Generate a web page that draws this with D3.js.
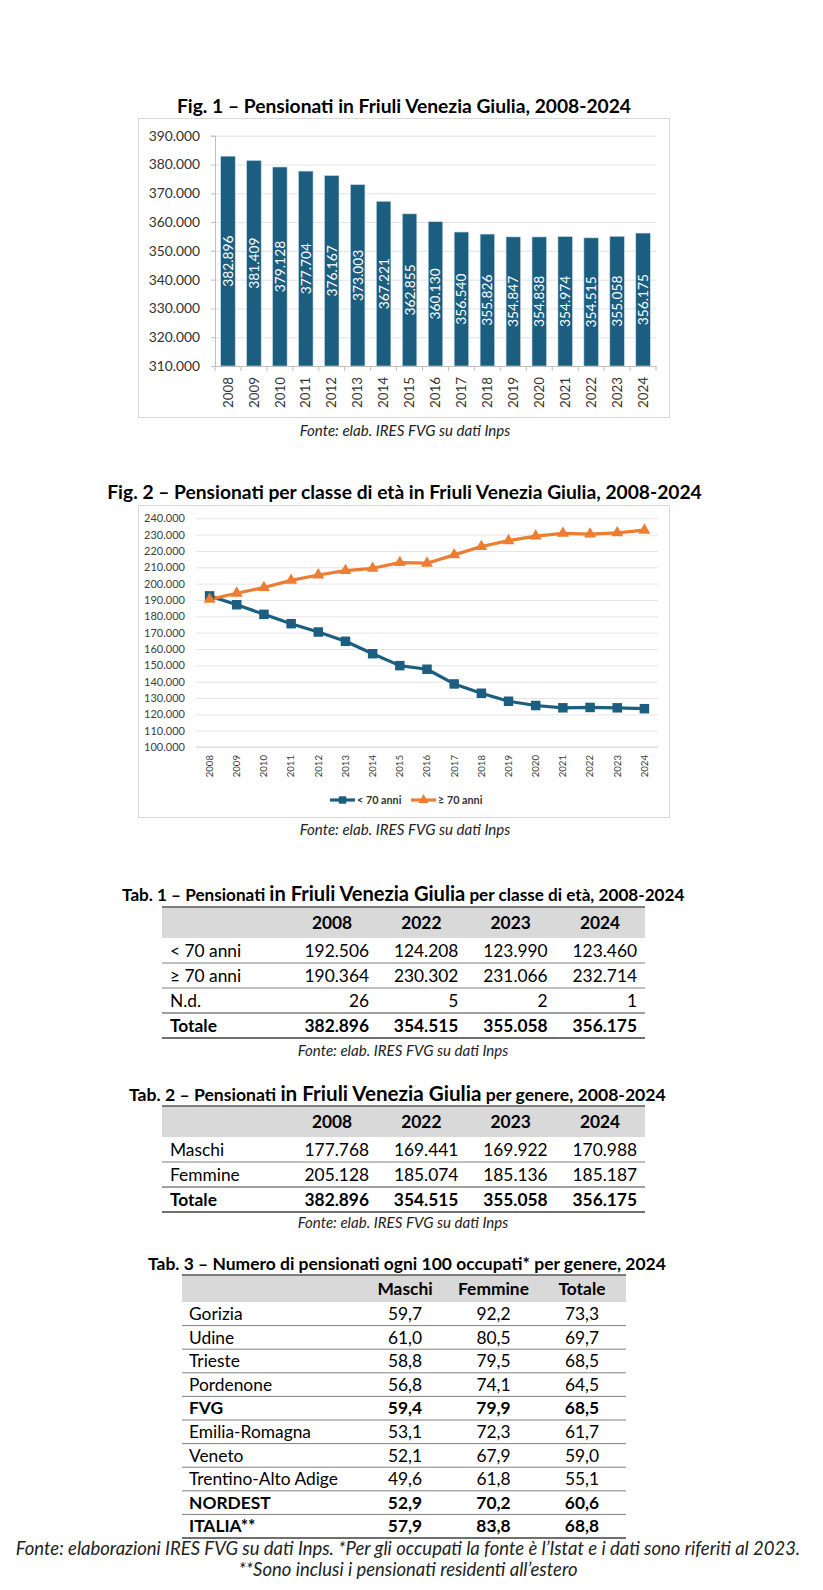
<!DOCTYPE html>
<html><head><meta charset="utf-8">
<script src="https://cdn.jsdelivr.net/npm/d3@7"></script>
<style>
body{margin:0;background:#fff}
svg{display:block}
text{font-family:Lato,"Open Sans",sans-serif}
</style>
</head><body>
<svg id="c" width="823" height="1590"></svg>
<script>
// ---------------- DATA ----------------
const years = ["2008","2009","2010","2011","2012","2013","2014","2015","2016","2017","2018","2019","2020","2021","2022","2023","2024"];
const pensionati = [382896,381409,379128,377704,376167,373003,367221,362855,360130,356540,355826,354847,354838,354974,354515,355058,356175];
const fig1Ticks = [310000,320000,330000,340000,350000,360000,370000,380000,390000];

const under70 = [192506,187100,181200,175500,170400,164700,157100,149800,147600,138600,132900,128000,125400,124000,124208,123990,123460];
const over70  = [190364,194100,197600,202000,205300,208000,209400,212900,212500,217600,222700,226300,229100,230800,230302,231066,232714];
const fig2Ticks = [100000,110000,120000,130000,140000,150000,160000,170000,180000,190000,200000,210000,220000,230000,240000];
const seriesNames = ["< 70 anni","≥ 70 anni"];

const tabCols = ["2008","2022","2023","2024"];
const tab1Rows = ["< 70 anni","≥ 70 anni","N.d.","Totale"];
const tab1Values = [[192506,124208,123990,123460],[190364,230302,231066,232714],[26,5,2,1],[382896,354515,355058,356175]];
const tab2Rows = ["Maschi","Femmine","Totale"];
const tab2Values = [[177768,169441,169922,170988],[205128,185074,185136,185187],[382896,354515,355058,356175]];

const tab3Cols = ["Maschi","Femmine","Totale"];
const tab3Rows = ["Gorizia","Udine","Trieste","Pordenone","FVG","Emilia-Romagna","Veneto","Trentino-Alto Adige","NORDEST","ITALIA**"];
const tab3Values = [[59.7,92.2,73.3],[61.0,80.5,69.7],[58.8,79.5,68.5],[56.8,74.1,64.5],[59.4,79.9,68.5],[53.1,72.3,61.7],[52.1,67.9,59.0],[49.6,61.8,55.1],[52.9,70.2,60.6],[57.9,83.8,68.8]];
const tab3Bold = ["FVG","NORDEST","ITALIA**"];

const fonte = "Fonte: elab. IRES FVG su dati Inps";
const fonte3a = "Fonte: elaborazioni IRES FVG su dati Inps. *Per gli occupati la fonte è l’Istat e i dati sono riferiti al 2023.";
const fonte3b = "**Sono inclusi i pensionati residenti all’estero";

// ---------------- HELPERS ----------------
const loc = d3.formatLocale({decimal:",", thousands:".", grouping:[3], currency:["€",""]});
const fInt = loc.format(",d");
const fDec = loc.format(".1f");
const BLUE = "#1b5e80", ORANGE = "#ed7d31";
const svg = d3.select("#c");
svg.append("rect").attr("width",823).attr("height",1590).attr("fill","#fff");

function fit(sel, target){
  const w = sel.node().getComputedTextLength();
  const r = target / w;
  const ts = sel.selectAll("tspan");
  if (ts.size()) ts.each(function(){ const t=d3.select(this); t.attr("font-size", parseFloat(t.attr("font-size"))*r); });
  else sel.attr("font-size", parseFloat(sel.attr("font-size"))*r);
  return sel;
}
function sizeFor(str, target, weight){
  const t = svg.append("text").attr("font-size",20).attr("font-weight",weight||"normal").text(str);
  const w = t.node().getComputedTextLength(); t.remove();
  return 20*target/w;
}

// ---------------- FIG 2 TITLE (size reference) ----------------
const t2 = svg.append("text").attr("x",404.5).attr("y",499).attr("text-anchor","middle")
  .attr("font-weight","bold").attr("font-size",17).text("Fig. 2 – Pensionati per classe di età in Friuli Venezia Giulia, 2008-2024");
fit(t2, 595);
const titleSize = parseFloat(t2.attr("font-size"));
const fonteSize = sizeFor(fonte, 224);

// ---------------- FIG 1 ----------------
svg.append("text").attr("x",404).attr("y",113).attr("text-anchor","middle")
  .attr("font-weight","bold").attr("font-size",titleSize).text("Fig. 1 – Pensionati in Friuli Venezia Giulia, 2008-2024");

svg.append("rect").attr("x",138.5).attr("y",118.5).attr("width",531).attr("height",299)
  .attr("fill","none").attr("stroke","#d9d9d9");

const x1 = d3.scaleBand().domain(years).range([215,656]).paddingInner(0.44).paddingOuter(0.22);
const y1 = d3.scaleLinear().domain([310000,390000]).range([366,135.7]);
const g1 = svg.append("g");

g1.append("g").attr("transform","translate(215,0)")
  .call(d3.axisLeft(y1).tickValues(fig1Ticks).tickSize(-(656-215)).tickFormat(""))
  .call(g=>g.select(".domain").remove())
  .call(g=>g.selectAll("line").attr("stroke","#e3e3e3"));

g1.selectAll("rect.bar").data(pensionati).join("rect").attr("class","bar")
  .attr("x",(d,i)=>x1(years[i])).attr("width",x1.bandwidth())
  .attr("y",d=>y1(d)).attr("height",d=>y1(310000)-y1(d))
  .attr("fill",BLUE).attr("stroke","#c9dbe6").attr("stroke-width",0.6);

g1.selectAll("text.bl").data(pensionati).join("text").attr("class","bl")
  .attr("transform",(d,i)=>`translate(${x1(years[i])+x1.bandwidth()/2},${(y1(d)+y1(310000))/2}) rotate(-90)`)
  .attr("text-anchor","middle").attr("dy","0.36em").attr("fill","#fff").attr("font-size",13.8)
  .text(d=>fInt(d));

g1.append("g").attr("transform","translate(215,0)")
  .call(d3.axisLeft(y1).tickValues(fig1Ticks).tickSize(4).tickPadding(11).tickFormat(fInt))
  .call(g=>g.select(".domain").attr("stroke","#bfbfbf"))
  .call(g=>g.selectAll("line").attr("stroke","#bfbfbf"))
  .call(g=>g.selectAll("text").attr("font-size",13.8).attr("fill","#333").attr("font-family","Lato,sans-serif"));

const xAx1 = g1.append("g").attr("transform","translate(0,366)")
  .call(d3.axisBottom(x1).tickSize(0).tickPadding(11))
  .call(g=>g.select(".domain").attr("stroke","#bfbfbf"));
xAx1.selectAll("text").attr("font-size",13.4).attr("fill","#333").attr("font-family","Lato,sans-serif")
  .attr("transform","rotate(-90)").attr("text-anchor","end").attr("x",-11).attr("y",0).attr("dy","0.35em");
const step1 = x1.step();
const bounds1 = years.map(d=>x1(d)-step1*x1.paddingInner()/2).concat([x1(years[years.length-1])+x1.bandwidth()+step1*x1.paddingInner()/2]);
g1.selectAll("line.bt").data(bounds1).join("line").attr("class","bt")
  .attr("x1",d=>d).attr("x2",d=>d).attr("y1",366).attr("y2",371).attr("stroke","#bfbfbf");

svg.append("text").attr("x",405).attr("y",436).attr("text-anchor","middle")
  .attr("font-style","italic").attr("font-size",fonteSize).attr("fill","#222").text(fonte);

// ---------------- FIG 2 ----------------
svg.append("rect").attr("x",138.5).attr("y",505.5).attr("width",531).attr("height",312)
  .attr("fill","none").attr("stroke","#d9d9d9");

const x2 = d3.scaleBand().domain(years).range([196,658]);
const y2 = d3.scaleLinear().domain([100000,240000]).range([747,518.3]);
const cx2 = d => x2(d)+x2.bandwidth()/2;
const g2 = svg.append("g");

g2.append("g").attr("transform","translate(196,0)")
  .call(d3.axisLeft(y2).tickValues(fig2Ticks).tickSize(-(658-196)).tickPadding(11).tickFormat(fInt))
  .call(g=>g.select(".domain").remove())
  .call(g=>g.selectAll("line").attr("stroke","#e6e6e6"))
  .call(g=>g.selectAll("text").attr("font-size",11).attr("fill","#404040").attr("font-family","Lato,sans-serif"));
g2.append("line").attr("x1",196).attr("x2",658).attr("y1",y2(100000)).attr("y2",y2(100000)).attr("stroke","#d9d9d9");

const xAx2 = g2.append("g").attr("transform",`translate(0,${y2(100000)})`)
  .call(d3.axisBottom(x2).tickSize(0))
  .call(g=>g.select(".domain").remove());
xAx2.selectAll("text").attr("font-size",9.6).attr("fill","#404040").attr("font-family","Lato,sans-serif")
  .attr("transform","rotate(-90)").attr("text-anchor","end").attr("x",-8).attr("y",0).attr("dy","0.35em");

const line2 = d3.line().x((d,i)=>cx2(years[i])).y(d=>y2(d));
g2.append("path").datum(under70).attr("d",line2).attr("fill","none").attr("stroke",BLUE).attr("stroke-width",3.2).attr("stroke-linejoin","round");
g2.append("path").datum(over70).attr("d",line2).attr("fill","none").attr("stroke",ORANGE).attr("stroke-width",3.2).attr("stroke-linejoin","round");
const sq = d3.symbol(d3.symbolSquare, 90);
const tri = d3.symbol(d3.symbolTriangle, 62);
g2.selectAll("path.sq").data(under70).join("path").attr("class","sq")
  .attr("transform",(d,i)=>`translate(${cx2(years[i])},${y2(d)})`).attr("d",sq).attr("fill",BLUE);
g2.selectAll("path.tr").data(over70).join("path").attr("class","tr")
  .attr("transform",(d,i)=>`translate(${cx2(years[i])},${y2(d)})`).attr("d",tri).attr("fill",ORANGE);

const legY = 800;
const leg = g2.append("g");
[[330,BLUE],[411,ORANGE]].forEach(([lx,col],k)=>{
  leg.append("line").attr("x1",lx).attr("x2",lx+25).attr("y1",legY).attr("y2",legY).attr("stroke",col).attr("stroke-width",3.2);
  leg.append("path").attr("d",d3.symbol(k?d3.symbolTriangle:d3.symbolSquare,k?45:55)()).attr("transform",`translate(${lx+12.5},${legY})`).attr("fill",col);
  leg.append("text").attr("x",lx+27).attr("y",legY).attr("dy","0.35em").attr("font-size",10.8).attr("font-weight","bold").attr("fill","#333").text(seriesNames[k]);
});

svg.append("text").attr("x",405).attr("y",835).attr("text-anchor","middle")
  .attr("font-style","italic").attr("font-size",fonteSize).attr("fill","#222").text(fonte);

// ---------------- TABLES ----------------
function numTable(o){
  const g = svg.append("g");
  const t = g.append("text").attr("x",o.titleX).attr("y",o.titleY).attr("font-weight","bold");
  o.title.forEach(([s,fs])=>t.append("tspan").attr("font-size",fs).text(s));
  fit(t, o.titleW);
  g.append("rect").attr("x",o.x0).attr("y",o.hy0).attr("width",o.x1-o.x0).attr("height",o.hy1-o.hy0).attr("fill","#d9d9d9");
  g.append("line").attr("x1",o.x0).attr("x2",o.x1).attr("y1",o.hy0).attr("y2",o.hy0).attr("stroke","#595959").attr("stroke-width",1.5);
  const ry = d3.scaleBand().domain(o.rows).range([o.hy1,o.yEnd]);
  const cx = d3.scalePoint().domain(o.cols).range(o.colRange);
  g.selectAll("text.h").data(o.cols).join("text").attr("class","h")
    .attr("x",d=>cx(d)+o.hOff).attr("y",(o.hy0+o.hy1)/2).attr("dy","0.36em")
    .attr("text-anchor",o.hAnchor).attr("font-weight","bold").attr("font-size",o.fs).text(d=>d);
  o.rows.forEach((r,i)=>{
    const yc = ry(r)+ry.bandwidth()/2;
    const bold = o.bold(r);
    g.append("text").attr("x",o.labelX).attr("y",yc).attr("dy","0.36em").attr("font-size",o.fs)
      .attr("font-weight",bold?"bold":"normal").text(r);
    g.selectAll(null).data(o.values[i]).join("text")
      .attr("x",(d,j)=>cx(o.cols[j])).attr("y",yc).attr("dy","0.36em").attr("font-size",o.fs)
      .attr("text-anchor",o.dAnchor).attr("font-weight",bold?"bold":"normal").text(o.format);
    const yb = ry(r)+ry.bandwidth();
    const last = i===o.rows.length-1;
    g.append("line").attr("x1",o.x0).attr("x2",o.x1).attr("y1",yb).attr("y2",yb)
      .attr("stroke",(last||o.darkAfter(i))?"#404040":"#7f7f7f").attr("stroke-width",last?1.5:1);
  });
  return g;
}

const fsTab = sizeFor("192.506", 64.5);
const fsTab3 = sizeFor("Emilia-Romagna", 122);

numTable({
  title:[["Tab. 1 – Pensionati ",14.5],["in Friuli Venezia Giulia",17],[" per classe di età, 2008-2024",14.5]],
  titleX:122, titleY:901, titleW:563,
  x0:162, x1:645, hy0:907, hy1:938, yEnd:1038,
  rows:tab1Rows, cols:tabCols, values:tab1Values,
  colRange:[369,637], hOff:-37, hAnchor:"middle", dAnchor:"end",
  labelX:170, fs:fsTab, format:fInt,
  bold:r=>r==="Totale", darkAfter:i=>i===2
});
svg.append("text").attr("x",403).attr("y",1056).attr("text-anchor","middle")
  .attr("font-style","italic").attr("font-size",fonteSize).attr("fill","#222").text(fonte);

numTable({
  title:[["Tab. 2 – Pensionati ",14.5],["in Friuli Venezia Giulia",17],[" per genere, 2008-2024",14.5]],
  titleX:129, titleY:1101, titleW:537,
  x0:162, x1:645, hy0:1106, hy1:1137, yEnd:1212,
  rows:tab2Rows, cols:tabCols, values:tab2Values,
  colRange:[369,637], hOff:-37, hAnchor:"middle", dAnchor:"end",
  labelX:170, fs:fsTab, format:fInt,
  bold:r=>r==="Totale", darkAfter:i=>i===1
});
svg.append("text").attr("x",403).attr("y",1228).attr("text-anchor","middle")
  .attr("font-style","italic").attr("font-size",fonteSize).attr("fill","#222").text(fonte);

numTable({
  title:[["Tab. 3 – Numero di pensionati ogni 100 occupati* per genere, 2024",14.5]],
  titleX:148, titleY:1270, titleW:518,
  x0:182, x1:626, hy0:1275, hy1:1302, yEnd:1538,
  rows:tab3Rows, cols:tab3Cols, values:tab3Values,
  colRange:[405,582], hOff:0, hAnchor:"middle", dAnchor:"middle",
  labelX:189, fs:fsTab3, format:fDec,
  bold:r=>tab3Bold.includes(r), darkAfter:i=>false
});
const f3a = svg.append("text").attr("x",408).attr("y",1555).attr("text-anchor","middle")
  .attr("font-style","italic").attr("font-size",13.5).attr("fill","#222").text(fonte3a);
fit(f3a, 785);
svg.append("text").attr("x",408).attr("y",1576).attr("text-anchor","middle")
  .attr("font-style","italic").attr("font-size",f3a.attr("font-size")).attr("fill","#222").text(fonte3b);
</script>
</body></html>
